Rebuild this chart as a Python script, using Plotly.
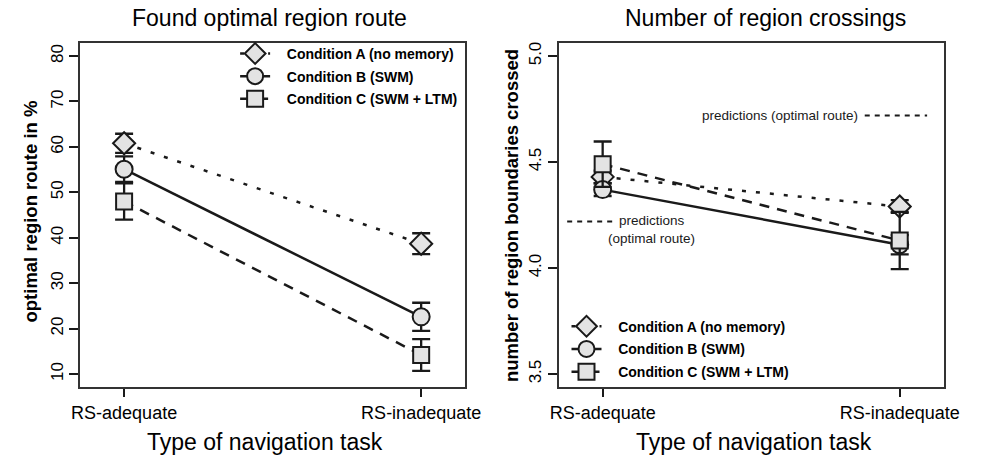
import plotly.graph_objects as go

# ---------------- data ----------------
tasks = ["RS-adequate", "RS-inadequate"]
conditions = ["Condition A (no memory)", "Condition B (SWM)", "Condition C (SWM + LTM)"]

# Found optimal region route (%)
route_A = [60.8, 38.7]
route_A_err = [2.1, 2.3]
route_B = [55.1, 22.6]
route_B_err = [2.8, 3.1]
route_C = [48.0, 14.2]
route_C_err = [4.0, 3.5]

# Number of region boundaries crossed
cross_A = [4.43, 4.29]
cross_A_err = [0.03, 0.03]
cross_B = [4.37, 4.11]
cross_B_err = [0.03, 0.045]
cross_C = [4.49, 4.13]
cross_C_err = [0.107, 0.135]

# optimal-route predictions (per task)
predictions = [4.22, 4.72]

left_ticks = [10, 20, 30, 40, 50, 60, 70, 80]
right_ticks = [3.5, 4.0, 4.5, 5.0]
right_ticklabels = ["3.5", "4.0", "4.5", "5.0"]

# ---------------- styling ----------------
W, H = 986, 457
FONT = "Liberation Sans, Arial, sans-serif"
INK = "#1a1a1a"
FILL = "#e3e3e3"
PAD = "\u00a0\u00a0\u00a0"

def px(x):
    return x / W

def py(y):
    return 1 - y / H

styles = [
    dict(symbol="diamond", size=17, dash="4px,10px"),
    dict(symbol="circle", size=17, dash="solid"),
    dict(symbol="square", size=16, dash="10px,8px"),
]

fig = go.Figure()

left_series = [(route_A, route_A_err), (route_B, route_B_err), (route_C, route_C_err)]
right_series = [(cross_A, cross_A_err), (cross_B, cross_B_err), (cross_C, cross_C_err)]

for panel, series in enumerate([left_series, right_series]):
    for i, (vals, errs) in enumerate(series):
        s = styles[i]
        fig.add_trace(go.Scatter(
            x=tasks, y=vals, mode="lines+markers", name=PAD + conditions[i],
            xaxis="x" if panel == 0 else "x2",
            yaxis="y" if panel == 0 else "y2",
            legend="legend" if panel == 0 else "legend2",
            legendgroup=f"p{panel}c{i}",
            line=dict(color=INK, width=2.5, dash=s["dash"]),
            marker=dict(symbol=s["symbol"], size=s["size"], color=FILL,
                        line=dict(color=INK, width=2)),
            error_y=dict(type="data", array=errs, visible=True, color=INK,
                         thickness=2.3, width=9),
        ))

# prediction segments (short dotted lines at the plot edges)
pred_spans = [(px(572.7), px(620)), (px(878), px(942))]
for val, (x0, x1) in zip(predictions, pred_spans):
    fig.add_shape(type="line", xref="paper", yref="y2", x0=x0, x1=x1, y0=val, y1=val,
                  line=dict(color=INK, width=2, dash="5px,5px"))

fig.add_annotation(xref="paper", yref="y2", x=px(659.5), y=predictions[0],
                   text="predictions<br>(optimal route)", showarrow=False,
                   xanchor="center", yanchor="top", yshift=10, align="center",
                   font=dict(family=FONT, size=13.5, color=INK))
fig.add_annotation(xref="paper", yref="y2", x=px(873), y=predictions[1],
                   text="predictions (optimal route)", showarrow=False,
                   xanchor="right", yanchor="middle",
                   font=dict(family=FONT, size=13.5, color=INK))

# titles
for cx, txt in [(267, "Found optimal region route"), (776, "Number of region crossings")]:
    fig.add_annotation(xref="paper", yref="paper", x=px(cx), y=py(16), text=txt,
                       showarrow=False, xanchor="center", yanchor="middle",
                       font=dict(family=FONT, size=23, color="black"))
for cx in (263, 764):
    fig.add_annotation(xref="paper", yref="paper", x=px(cx), y=py(442),
                       text="Type of navigation task", showarrow=False,
                       xanchor="center", yanchor="middle",
                       font=dict(family=FONT, size=23, color="black"))
for cx, cy, txt in [(22, 210, "optimal region route in %"),
                    (515, 214, "number of region boundaries crossed")]:
    fig.add_annotation(xref="paper", yref="paper", x=px(cx), y=py(cy), text="<b>" + txt + "</b>",
                       showarrow=False, textangle=-90, xanchor="center", yanchor="middle",
                       font=dict(family=FONT, size=18.5, color="black"))

xaxis_common = dict(type="category", categoryorder="array", categoryarray=tasks,
                    range=[-0.148, 1.148], showgrid=False, zeroline=False,
                    showline=True, mirror=True, linecolor="#333333", linewidth=1.5,
                    ticks="outside", ticklen=8, tickwidth=1.5, tickcolor="#1a1a1a",
                    tickfont=dict(family=FONT, size=18, color="black"),
                    ticklabelstandoff=1)
yaxis_common = dict(showgrid=False, zeroline=False,
                    showline=True, mirror=True, linecolor="#333333", linewidth=1.5,
                    ticks="outside", ticklen=9, tickwidth=1.5, tickcolor="#1a1a1a",
                    tickangle=-90,
                    tickfont=dict(family=FONT, size=17, color="black"))

legend_common = dict(xanchor="left", yanchor="top", bgcolor="rgba(0,0,0,0)",
                     itemwidth=30, tracegroupgap=1.5,
                     font=dict(family=FONT, size=14, color="black", weight="bold"))

fig.update_layout(
    width=W, height=H,
    margin=dict(l=0, r=0, t=0, b=0),
    paper_bgcolor="white", plot_bgcolor="white",
    xaxis=dict(domain=[px(73), px(468)], anchor="y", **xaxis_common),
    yaxis=dict(domain=[py(386.5), py(41.5)], anchor="x", range=[7.2, 82.8],
               tickvals=left_ticks, **yaxis_common),
    xaxis2=dict(domain=[px(564), px(959)], anchor="y2", **xaxis_common),
    yaxis2=dict(domain=[py(386.5), py(41.5)], anchor="x2", range=[3.44, 5.06],
                tickvals=right_ticks, ticktext=right_ticklabels, **yaxis_common),
    legend=dict(x=px(232), y=py(36), **legend_common),
    legend2=dict(x=px(572), y=py(310), **legend_common),
    showlegend=True,
)

fig.write_html("out.html", config={"displayModeBar": False},
               post_script="document.body.style.margin='0px';")
